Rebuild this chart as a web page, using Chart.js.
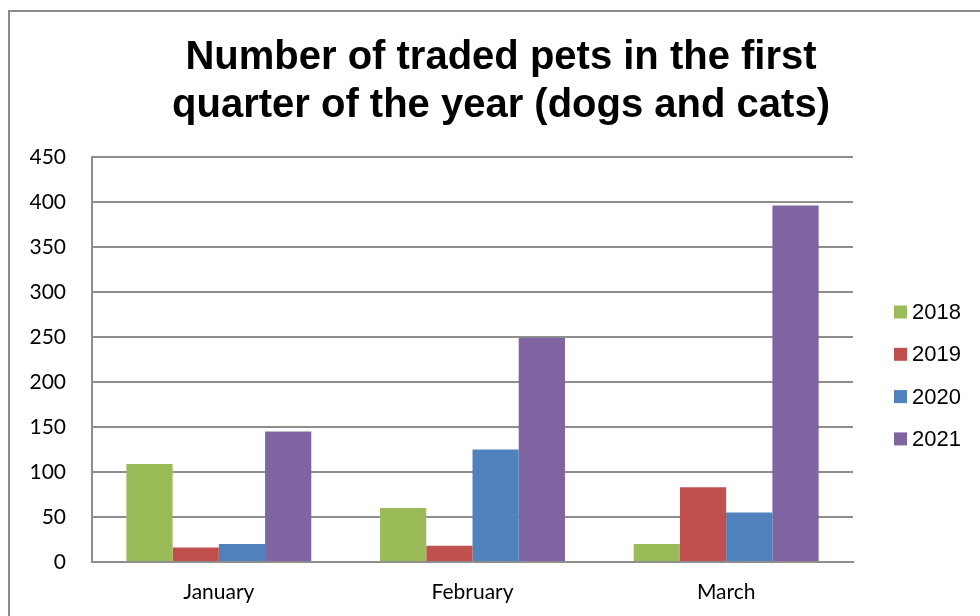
<!DOCTYPE html>
<html>
<head>
<meta charset="utf-8">
<title>Number of traded pets in the first quarter of the year</title>
<script src="https://cdn.jsdelivr.net/npm/chart.js@4/dist/chart.umd.min.js"></script>
<style>
  html, body { margin: 0; padding: 0; background: #ffffff; }
  #wrap { width: 980px; height: 616px; }
</style>
</head>
<body>
<div id="wrap"><canvas id="pets" width="980" height="616"></canvas></div>
<script>
// Months of the first quarter
const months = ['January', 'February', 'March'];

// Pets traded per month (dogs and cats), one array per year
const years = ['2018', '2019', '2020', '2021'];
const traded2018 = [109, 60, 20];
const traded2019 = [16, 18, 83];
const traded2020 = [20, 125, 55];
const traded2021 = [145, 249, 396];

// Value axis ticks
const yTicks = [0, 50, 100, 150, 200, 250, 300, 350, 400, 450];

const seriesColors = ['#9BBB59', '#C0504D', '#4F81BD', '#8064A2'];
const seriesValues = [traded2018, traded2019, traded2020, traded2021];

const GRID = '#8e8e8e';
const TICK_FONT = "Lato, 'Open Sans', sans-serif";
const ARIAL = "'Liberation Sans', Arial, sans-serif";

// Gray frame round the whole chart
const framePlugin = {
  id: 'frame',
  beforeDraw(chart) {
    const ctx = chart.ctx;
    ctx.save();
    ctx.fillStyle = '#ffffff';
    ctx.fillRect(0, 0, chart.width, chart.height);
    ctx.strokeStyle = '#8a8a8a';
    ctx.lineWidth = 2;
    ctx.strokeRect(9, 11, chart.width + 20, chart.height + 20);
    ctx.restore();
  }
};

// Legend as a column of square swatches to the right of the plot
const sideLegendPlugin = {
  id: 'sideLegend',
  afterDraw(chart) {
    const ctx = chart.ctx;
    const area = chart.chartArea;
    const items = chart.data.datasets;
    const step = 42.3;
    const firstY = 312;
    const boxX = area.right + 41;
    ctx.save();
    ctx.font = '22px ' + ARIAL;
    ctx.textBaseline = 'middle';
    ctx.textAlign = 'left';
    items.forEach((ds, i) => {
      const y = firstY + i * step;
      ctx.fillStyle = ds.backgroundColor;
      ctx.fillRect(boxX, y - 6.5, 13, 13);
      ctx.fillStyle = '#000000';
      ctx.fillText(ds.label, boxX + 18, y + 1);
    });
    ctx.restore();
  }
};

const datasets = years.map((label, i) => ({
  label: label,
  data: seriesValues[i],
  backgroundColor: seriesColors[i],
  borderWidth: 0,
  categoryPercentage: 0.729,
  barPercentage: 1.0
}));

new Chart(document.getElementById('pets'), {
  type: 'bar',
  data: { labels: months, datasets: datasets },
  plugins: [framePlugin, sideLegendPlugin],
  options: {
    responsive: false,
    animation: false,
    devicePixelRatio: 1,
    layout: { padding: { left: 22, right: 0, top: 0, bottom: 0 } },
    plugins: {
      legend: { display: false },
      tooltip: { enabled: false },
      title: {
        display: true,
        text: ['Number of traded pets in the first', 'quarter of the year (dogs and cats)'],
        color: '#000000',
        font: { family: ARIAL, size: 40, weight: 'bold', lineHeight: 1.2 },
        padding: { top: 34, bottom: 27 }
      }
    },
    scales: {
      x: {
        afterFit(scale) { scale.height = 54; },
        grid: { display: false, drawTicks: false },
        border: { display: true, color: GRID, width: 2 },
        ticks: {
          color: '#000000',
          padding: 18,
          font: { family: TICK_FONT, size: 21 }
        }
      },
      y: {
        min: 0,
        max: 450,
        afterFit(scale) { scale.width = 70; },
        afterBuildTicks(scale) { scale.ticks = yTicks.map(v => ({ value: v })); },
        grid: { color: GRID, lineWidth: 2, drawTicks: false },
        border: { display: true, color: GRID, width: 2 },
        ticks: {
          color: '#000000',
          padding: 26,
          font: { family: TICK_FONT, size: 21 }
        }
      },
      // empty strip on the right that holds the legend
      legendSpace: {
        type: 'linear',
        position: 'right',
        afterFit(scale) { scale.width = 127; },
        grid: { display: false, drawTicks: false },
        border: { display: false },
        ticks: { display: false }
      }
    }
  }
});
</script>
</body>
</html>
